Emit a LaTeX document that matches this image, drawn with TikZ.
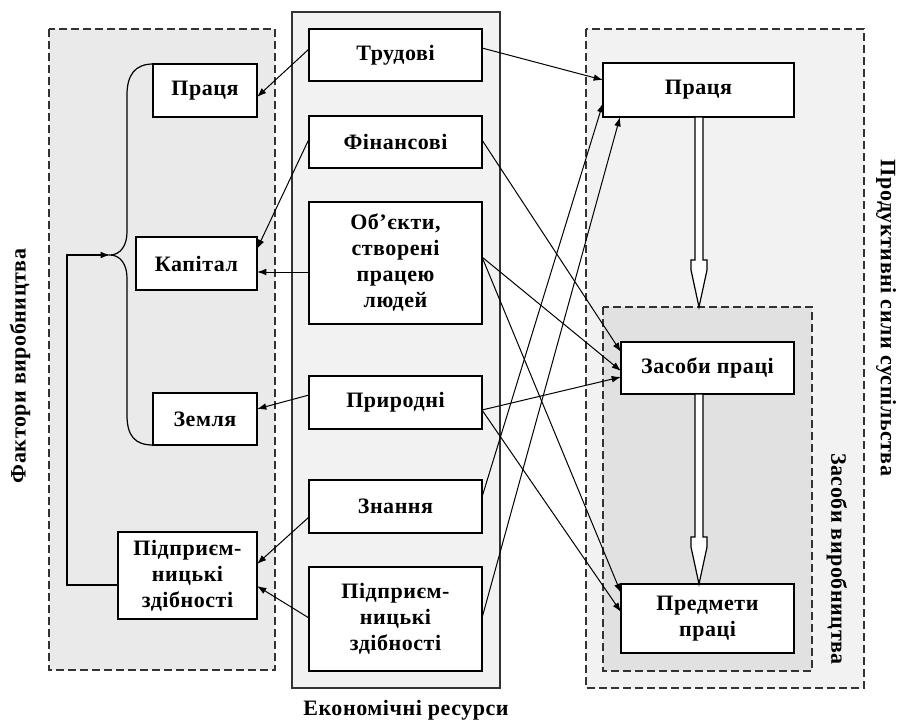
\documentclass[tikz,border=0pt]{standalone}
\usepackage{fontspec}
\setmainfont{Liberation Serif}[LetterSpace=2.5]
\usetikzlibrary{calc,arrows.meta}
\definecolor{lpanel}{HTML}{EAEAEA}
\definecolor{mpanel}{HTML}{F2F2F2}
\definecolor{rpanel}{HTML}{F2F2F2}
\definecolor{ipanel}{HTML}{E1E1E1}
\begin{document}
\begin{tikzpicture}[x=0.75pt,y=-0.75pt,
  box/.style={draw=black,line width=1.1pt,fill=white,inner sep=0pt,outer sep=0pt,align=center,font=\fontsize{16.5}{19.5}\selectfont\bfseries},
  panel/.style={draw=black!80,line width=1pt,dash pattern=on 6pt off 3pt},
  conn/.style={line width=0.75pt,-{Latex[length=7pt,width=5pt]}},
  lbl/.style={font=\fontsize{16.5}{19.5}\selectfont\bfseries,inner sep=0pt},
  harrow/.pic={\draw[fill=white,line width=0.9pt] (-4,0) -- (4,0) -- (4,143) -- (8,143) -- (8,153) -- (0,190) -- (-8,153) -- (-8,143) -- (-4,143) -- cycle;}]
\useasboundingbox[fill=white] (0,0) rectangle (898,724);
% panels
\filldraw[panel,fill=lpanel] (49,29) rectangle (275,670);
\filldraw[draw=black!80,line width=1pt,fill=mpanel] (292,12) rectangle (500,688);
\filldraw[panel,fill=rpanel] (586,29) rectangle (864,688);
\filldraw[panel,fill=ipanel] (603,307) rectangle (812,671);
% middle boxes
\node[box,minimum width=129.75pt,minimum height=39pt] (trud) at (395.5,55) {Трудові};
\node[box,minimum width=129.75pt,minimum height=39pt] (fin) at (395.5,142) {Фінансові};
\node[box,minimum width=129.75pt,minimum height=91.5pt] (obj) at (395.5,263) {Об’єкти,\\створені\\працею\\людей};
\node[box,minimum width=129.75pt,minimum height=39.75pt] (pryr) at (395.5,402.5) {Природні};
\node[box,minimum width=129.75pt,minimum height=39.75pt] (zn) at (395.5,506.5) {Знання};
\node[box,minimum width=129.75pt,minimum height=78pt] (pidm) at (395.5,619) {Підприєм-\\ницькі\\здібності};
% left boxes
\node[box,minimum width=78pt,minimum height=39.75pt] (lprac) at (205,90.5) {Праця};
\node[box,minimum width=90.75pt,minimum height=39.75pt] (kap) at (196.5,263.5) {Капітал};
\node[box,minimum width=78pt,minimum height=39pt] (zem) at (205,419) {Земля};
\node[box,minimum width=104.25pt,minimum height=65.25pt] (lpidm) at (187.5,575.5) {Підприєм-\\ницькі\\здібності};
% right boxes
\node[box,minimum width=143.25pt,minimum height=40.5pt] (rprac) at (698.5,90) {Праця};
\node[box,minimum width=129.75pt,minimum height=39pt] (zas) at (707.5,368) {Засоби праці};
\node[box,minimum width=129.75pt,minimum height=51.75pt] (pred) at (707.5,618.5) {Предмети\\праці};
% hollow arrows
\pic at ($(rprac.south)+(0.5,0)$) {harrow};
\pic at ($(zas.south)+(-8.5,0)$) {harrow};
% brace
\coordinate (tip) at (110,255);
\draw[line width=0.9pt] (lprac.north west) .. controls (135,64) and (127,75) .. (127,95) -- (127,232)
  .. controls (127,246) and (120,255) .. (tip) .. controls (120,255) and (127,264) .. (127,278)
  -- (127,415) .. controls (127,436) and (135,445) .. (zem.south west);
\coordinate (c1) at (67,585);
\coordinate (c2) at (67,255);
\draw[line width=0.9pt,-{Latex[length=7pt,width=5pt]}] ($(lpidm.west)+(0,9.5)$) -- (c1) -- (c2) -- (tip);
% connectors to left
\draw[conn] ($(trud.west)+(0,-6)$) -- ($(lprac.east)+(0,6.5)$);
\draw[conn] ($(fin.west)+(0,-3)$) -- ($(kap.east)+(0,-14.5)$);
\draw[conn] ($(obj.west)+(0,9)$) -- ($(kap.east)+(0,8.5)$);
\draw[conn] ($(pryr.west)+(0,-7.5)$) -- ($(zem.east)+(0,-10)$);
\draw[conn] ($(zn.west)+(0,10.5)$) -- ($(lpidm.east)+(0,-11.5)$);
\draw[conn] ($(pidm.west)+(0,-1)$) -- ($(lpidm.east)+(0,10.5)$);
% connectors to right
\draw[conn] ($(trud.east)+(0,-7)$) -- ($(rprac.west)+(0,-10)$);
\draw[conn] ($(zn.east)+(0,-9.5)$) -- ($(rprac.west)+(0,13)$);
\draw[conn] ($(pidm.east)+(0,-1)$) -- ($(rprac.south)+(-78.5,0)$);
\draw[conn] ($(fin.east)+(0,-2)$) -- ($(zas.west)+(0,-16)$);
\draw[conn] ($(obj.east)+(0,-6)$) -- ($(zas.west)+(0,3)$);
\draw[conn] ($(pryr.east)+(0,7.5)$) -- ($(zas.west)+(0,9)$);
\draw[conn] ($(obj.east)+(0,-6)$) -- ($(pred.west)+(0,-25.5)$);
\draw[conn] ($(pryr.east)+(0,7.5)$) -- ($(pred.west)+(0,-6.5)$);
% labels
\node[lbl,rotate=90] (lf) at (20,366) {Фактори виробництва};
\node[lbl,rotate=-90] (lp) at (886,318) {Продуктивні сили суспільства};
\node[lbl,rotate=-90] (lz) at (837,559) {Засоби виробництва};
\node[lbl] (le) at (406,710) {Економічні ресурси};
\end{tikzpicture}
\end{document}
